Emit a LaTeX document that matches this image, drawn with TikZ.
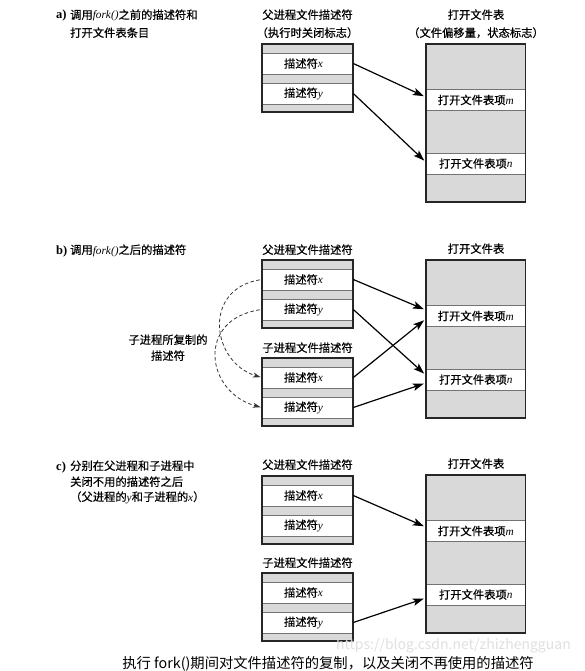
\documentclass[tikz,border=0pt]{standalone}
\usepackage{fontspec}
\setmainfont{Liberation Serif}
\newfontfamily\cjk{Noto Sans CJK SC}[UprightFeatures={FakeBold=0.5}]
\newfontfamily\cjkcap{Noto Sans CJK SC}
\usetikzlibrary{arrows.meta}
\newcommand\vv[1]{{\rmfamily\itshape #1}}
\newcommand\descbox[2]{%
  \fill[boxgray] (262,#2) rectangle (353,#2+68);
  \node[rowbox] (#1x) at (307.5,#2+19.5) {描述符\vv{x}\kern8pt};
  \node[rowbox] (#1y) at (307.5,#2+49.5) {描述符\vv{y}\kern8pt};
  \draw[boxframe] (262,#2) rectangle (353,#2+68);}
\newcommand\filetable[2]{%
  \fill[boxgray] (426,#2) rectangle (525.5,#2+158);
  \node[rowbox, minimum width=99.5pt] (#1m) at (475.75,#2+56) {打开文件表项\vv{m}};
  \node[rowbox, minimum width=99.5pt] (#1n) at (475.75,#2+119.5) {打开文件表项\vv{n}};
  \draw[boxframe] (426,#2) rectangle (525.5,#2+158);}
\tikzset{
  lbl/.style={font=\cjk\fontsize{11.3}{14}\selectfont, inner sep=0pt, anchor=base west},
  lblmark/.style={font=\rmfamily\bfseries\fontsize{12.5}{14}\selectfont, inner sep=0pt, anchor=base west},
  hdr/.style={font=\cjk\fontsize{11.3}{14}\selectfont, inner sep=0pt, anchor=base},
  rowbox/.style={fill=white, draw=black!55, line width=0.6pt, minimum width=91pt,
    minimum height=21pt, inner sep=0pt, font=\cjk\fontsize{11.3}{14}\selectfont},
  boxframe/.style={draw=black!85, line width=1.4pt},
  boxgray/.style={fill=black!15},
  ptr/.style={-{Stealth[length=11pt,width=7.5pt,inset=2.5pt]}, line width=1.2pt, shorten >=2pt},
  dup/.style={dash pattern=on 3.5pt off 2.5pt, line width=0.8pt, draw=black!80,
    -{Stealth[length=8pt,width=5pt]}, shorten <=2pt, shorten >=1pt}
}
\begin{document}
\begin{tikzpicture}[x=1pt,y=-1pt]
\useasboundingbox (0,0) rectangle (585,671);
\fill[white] (0,0) rectangle (585,671);

% ---------- a ----------
\node[lblmark] (la0) at (56,19) {a)};
\node[lbl] (la1) at (70,19) {调用\vv{fork()}之前的描述符和};
\node[lbl] (la2) at (70,37) {打开文件表条目};
\node[hdr] (aph1) at (307.5,19) {父进程文件描述符};
\node[hdr] (aph2) at (307.5,37) {（执行时关闭标志）};
\node[hdr] (ath1) at (476,19) {打开文件表};
\node[hdr] (ath2) at (476,37) {（文件偏移量，状态标志）};
\descbox{ap}{44}
\filetable{at}{44}
\draw[ptr] (apx.east) -- ([yshift=3pt]atm.west);
\draw[ptr] (apy.east) -- ([yshift=1.5pt]atn.west);

% ---------- b ----------
\node[lblmark] (lb0) at (56,254) {b)};
\node[lbl] (lb1) at (70,254) {调用\vv{fork()}之后的描述符};
\node[hdr] (bph) at (307.5,254) {父进程文件描述符};
\node[hdr] (bch) at (307.5,352) {子进程文件描述符};
\node[hdr] (bth) at (476,253) {打开文件表};
\node[hdr] (dupl1) at (168,344) {子进程所复制的};
\node[hdr] (dupl2) at (168,360) {描述符};
\descbox{bp}{260}
\descbox{bc}{358}
\filetable{bt}{260}
\draw[dup] (bpx.west) .. controls +(-60,10) and +(-50,-15) .. (bcx.west);
\draw[dup] (bpy.west) .. controls +(-66,10) and +(-56,-15) .. (bcy.west);
\draw[ptr] (bpx.east) -- ([yshift=6pt]btm.west);
\draw[ptr] (bpy.east) -- ([yshift=4.5pt]btn.west);
\draw[ptr] (bcx.east) -- ([yshift=-3pt]btm.west);
\draw[ptr] (bcy.east) -- ([yshift=-3.5pt]btn.west);

% ---------- c ----------
\node[lblmark] (lc0) at (56,470) {c)};
\node[lbl] (lc1) at (70,470) {分别在父进程和子进程中};
\node[lbl] (lc2) at (70,486) {关闭不用的描述符之后};
\node[lbl] (lc3) at (70,501) {（父进程的\vv{y}和子进程的\vv{x}）};
\node[hdr] (cph) at (307.5,469) {父进程文件描述符};
\node[hdr] (cch) at (307.5,567) {子进程文件描述符};
\node[hdr] (cth) at (476,468) {打开文件表};
\descbox{cp}{476}
\descbox{cc}{573}
\filetable{ct}{475}
\draw[ptr] (cpx.east) -- ([yshift=4pt]ctm.west);
\draw[ptr] (ccy.east) -- ([yshift=-3.5pt]ctn.west);

% ---------- caption ----------
\node[font=\cjkcap\fontsize{14}{15}\selectfont, text=black!12, anchor=base west, inner sep=0pt]
  (wm) at (336,649) {https://blog.csdn.net/zhizhengguan};
\node[font=\cjkcap\fontsize{14.3}{16}\selectfont, anchor=base, inner sep=0pt]
  (cap) at (328,668) {执行 fork()期间对文件描述符的复制，以及关闭不再使用的描述符};
\end{tikzpicture}
\end{document}
